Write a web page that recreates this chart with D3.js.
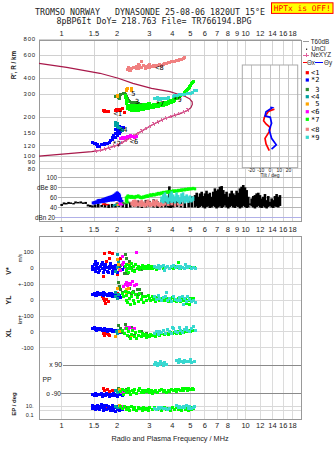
<!DOCTYPE html>
<html><head><meta charset="utf-8">
<script src="https://cdn.jsdelivr.net/npm/d3@7"></script>
<style>
body{margin:0;background:#fff}
svg{display:block}
text{font-family:"Liberation Sans",Arial,sans-serif;fill:#222}
.mono{font-family:"DejaVu Sans Mono",monospace}
</style></head>
<body><svg id="c" width="335" height="451"></svg>
<script>
// ---------------- DATA ----------------
const gridF   = [1,1.5,2,3,4,5,6,7,8,9,10,12,14,16,18];
const topTicks= [1,1.5,2,3,4,5,6,7,8,9,10,12,14,16,18];
const midTicks= [1,1.5,2,3,4,5,6,7,8,9,10,12,14,16,18];
const botTicks= [1,1.5,2,3,4,5,6,7,8,10,12,14,16,18];
const hTicks  = [800,600,400,300,200,150,120,100,90,80];
const dbTicks = [100,80,60,40];
const dbLabels= ["100","dBe 80","60","40"];
const tiltTicks=[-20,-10,0,10,20];
const bandLines=[["V",100],["V",0],["V",-100],["Y",0],["Y",-100],["X",0],["X",-100]];
const bandLabels=[["V",100,"100"],["V",0,"0"],["V",-100,"+-100"],["Y",0,"0"],["Y",-100,"+-100"],["X",0,"0"],["X",-100,"-100"]];

const traceNames = ["<1","*2"," 3","<4"," 5","<6","*7","<8","*9"];
const traceColors= ["#ff0000","#0000ff","#2e8b2e","#00a0a0","#ffa500","#ff00ff","#00ff00","#f08080","#38d8d0"];
const legendY    = [72.7,80,89.5,96.7,104,111.7,119.3,129.3,137.3];
const labF = [2.02,1.99,2.57,2.16,2.45,2.47,3.42,3.40,4.26];
const labH = [211,125,261,160,301,129,254,482,275];

// model profile (maroon) and NeXYZ
const modelCurve = [[0.753,519],[1.065,484],[1.615,435],[2.03,398],[2.44,364],[3.08,333],[3.88,314],[4.30,300],[4.70,288],[4.95,277],[5.12,262],[5.13,250],[5.04,236],[4.80,224],[4.40,212],[3.64,195],[3.08,173],[2.50,145],[2.03,122],[1.65,111],[1.456,108],[0.753,100]];
const neXYZ = [[1.50,109],[1.65,111],[1.80,115],[2.03,122],[2.25,132],[2.50,145],[2.80,160],[3.08,173],[3.35,185],[3.64,195],[4.00,205],[4.30,212],[4.68,221],[4.90,229]];

// tilt (deg) vs height (km)
const tiltX = [[4.8,230],[1.7,226],[-1.8,221],[-6.1,199],[-6.9,187],[-4.3,177],[0.3,166],[-0.8,154],[-5.4,137],[-4.3,124],[-0.8,110]];
const tiltY = [[0.3,238],[2.5,236],[-4.3,220],[-5.4,204],[0.3,199],[1.7,179],[-0.8,159],[1.7,137],[6.8,122],[1.7,113]];

// noise amplitude (black): frequency, lower and upper dB
const noiseF = [1.00,1.03,1.06,1.09,1.12,1.16,1.19,1.23,1.27,1.31,1.35,1.39,1.43,1.47,1.52,1.58,1.65,1.72,1.80,1.88,1.96,2.05,2.15,2.25,2.36,2.48,2.60,2.73,2.87,3.01,3.16,3.32,3.49,3.66,3.80,3.85,3.92,4.04,4.24,4.45,4.67,4.90,5.10,
 5.31,5.42,5.53,5.65,5.77,5.89,6.01,6.13,6.26,6.39,6.53,6.67,6.81,6.95,7.10,7.25,7.41,7.56,7.72,7.88,8.05,8.22,8.40,8.57,8.75,8.93,9.12,9.31,9.51,9.71,9.92,10.13,10.34,10.56,10.78,11.01,11.24,11.48,11.72,11.97,12.22,12.48,12.74,13.01,13.28,13.56,13.85,14.14,14.43,14.74,15.05,15.37];
const noiseHi = [47,50,49,51,50,49,52,51,52,50,51,46,45,44,46,47,45,48,46,47,45,46,47,48,50,52,54,51,55,53,56,52,55,57,60,82,58,56,62,56,60,58,62,
 64.6,69.3,61.3,68,71.3,62.7,68,73.3,66.7,69.3,61.3,71.3,78,73.3,76,81.3,82.6,74.6,66.7,71.3,61.3,68,73.3,68,64.6,73.3,69.3,78,81.3,84.6,80,74.6,61.3,48,58,62.7,64.6,68,69.3,64.6,58,61.3,66.7,54.6,62.7,51.3,58,54.6,62.7,66.7,61.3,64.6];
const noiseLo = [43,46,46,47,47,46,48,48,48,47,47,42,41,40,40,40,41,40,39,40,40,41,40,39,40,41,40,39,40,41,40,39,40,40,40,40,39,40,41,40,39,40,40,
 40,42,39,41,43,40,38,41,42,39,40,43,41,38,40,42,39,41,44,40,38,41,43,40,39,42,41,38,40,43,41,39,40,45,42,40,38,41,43,40,39,42,40,38,41,43,40,39,42,41,40,43];

// trace 1 (red <1)
const rng1=[[1.68,226],[1.70,224],[1.72,222],[1.74,221],[1.77,220],[1.80,222],[1.95,225],[1.98,227],[2.01,226],[2.04,228],[2.07,229],[2.10,226],[2.14,232],[2.20,216]];
const amp1=[[1.68,45,48],[1.71,46,48],[1.74,44,47],[1.78,45,47],[2.00,46,50],[2.03,47,49]];
const vs1=[[1.70,95],[1.83,98],[1.83,62],[1.69,26],[1.68,-54],[2.02,-43],[1.90,90],[1.75,40],[1.95,-20],[2.10,60]];
const yl1=[[1.68,11],[1.70,-6],[1.73,-21],[2.02,38],[1.66,25],[1.75,5],[1.80,-12]];
const xl1=[[1.68,-10],[1.72,-22],[1.79,-15],[1.83,-26],[1.75,-8]];
const pp1=[[1.68,-62],[1.72,-75],[1.77,-68],[1.83,-80],[1.90,-70]];
const ep1=[[1.70,20],[1.80,12],[1.75,8]];
// trace 2 (blue *2)
const rng2=[[1.48,128],[1.50,126],[1.52,124],[1.54,122],[1.56,122],[1.57,119],[1.59,119],[1.61,119],[1.64,122],[1.66,122],[1.68,122],[1.70,122],[1.72,124],[1.74,124],[1.76,126],[1.78,126],[1.81,128],[1.83,128],[1.85,131],[1.88,133],[1.88,138],[1.90,138],[1.92,143],[1.95,148],[1.95,140],[1.97,150],[2.00,153],[2.00,145],[2.02,156],[2.02,148],[2.05,159],[2.05,150],[2.07,159],[2.07,167],[2.10,164],[2.10,156],[2.13,167],[2.15,164],[2.18,167],[1.97,159],[2.00,164],[2.05,170]];
const amp2=[[1.48,46,52],[1.51,46,53],[1.54,47,54],[1.57,47,56],[1.59,48,57],[1.62,48,57],[1.66,49,58],[1.69,49,59],[1.72,50,60],[1.75,50,61],[1.78,51,62],[1.81,51,63],[1.85,52,64],[1.88,52,65],[1.92,52,67],[1.95,53,68],[1.97,53,70],[2.00,54,72],[2.02,53,71],[2.05,52,69],[2.07,50,66],[2.10,48,60],[2.13,46,55]];
const vs2=[[1.48,10],[1.48,-10],[1.50,25],[1.50,0],[1.52,-20],[1.54,15],[1.56,-5],[1.57,30],[1.59,5],[1.61,-15],[1.64,20],[1.66,0],[1.68,-25],[1.70,10],[1.72,-8],[1.74,25],[1.76,2],[1.78,-18],[1.81,12],[1.83,-5],[1.85,30],[1.88,-20],[1.90,8],[1.92,-10],[1.95,18],[1.97,0],[2.00,-25],[2.02,10],[2.05,-5],[2.10,15],[2.15,-10],[2.20,5],[1.52,40],[1.66,35],[1.80,-30],[1.58,-30],[1.72,18],[1.90,-35],[1.62,8],[1.86,4]];
const yl2=[[1.48,35],[1.50,40],[1.52,30],[1.55,38],[1.57,45],[1.60,32],[1.63,40],[1.66,36],[1.69,28],[1.72,42],[1.75,35],[1.78,30],[1.81,40],[1.84,33],[1.87,38],[1.90,25],[1.93,35],[1.96,30],[2.00,22],[2.03,35],[2.07,28],[2.10,15],[1.54,28],[1.68,44],[1.82,26]];
const xl2=[[1.48,20],[1.50,25],[1.52,15],[1.55,22],[1.57,18],[1.60,12],[1.63,20],[1.66,10],[1.69,15],[1.72,8],[1.75,14],[1.78,5],[1.81,12],[1.84,8],[1.87,15],[1.90,5],[1.93,10],[1.96,2],[2.00,8],[2.03,0],[2.07,5],[2.10,-3],[1.54,10],[1.70,22]];
const pp2=[[1.48,-95],[1.50,-102],[1.52,-90],[1.55,-105],[1.58,-96],[1.61,-100],[1.64,-92],[1.67,-108],[1.70,-98],[1.73,-104],[1.76,-94],[1.79,-100],[1.82,-110],[1.85,-96],[1.88,-102],[1.91,-92],[1.94,-105],[1.97,-98],[2.00,-108],[2.04,-100],[2.08,-95],[2.13,-105],[2.17,-100]];
const ep2=[[1.48,20],[1.48,3],[1.52,15],[1.52,1.5],[1.56,25],[1.56,4],[1.60,12],[1.60,2],[1.64,30],[1.64,5],[1.68,18],[1.68,1],[1.72,10],[1.72,3],[1.76,22],[1.76,1.5],[1.80,14],[1.80,4],[1.84,8],[1.84,0.8],[1.88,20],[1.88,2.5],[1.92,12],[1.92,1],[1.96,6],[1.96,0.6],[2.00,15],[2.00,2],[2.05,8],[2.05,1],[2.10,4],[2.15,2]];
// trace 3 (dark green 3)
const rng3=[[1.95,287],[2.03,282],[2.07,280],[2.06,289],[2.10,296],[2.16,302],[2.19,306],[2.22,300],[2.26,290],[2.28,278],[2.30,270],[2.35,264],[2.40,261],[2.45,259],[2.50,256],[2.56,257],[2.61,255],[2.66,252],[2.72,250],[2.78,248],[2.24,283]];
const amp3=[[2.00,46,49],[2.15,47,51],[2.21,46,50],[2.30,48,52]];
const vs3=[[2.21,83],[2.26,62],[2.10,14],[2.26,-16],[2.29,-32],[2.19,-32],[2.40,5],[2.50,-12],[2.35,40],[2.60,8],[2.70,-6]];
const yl3=[[2.03,109],[2.07,84],[2.10,63],[2.21,100],[2.35,74],[2.40,42],[2.57,63],[2.66,67],[2.72,42],[2.15,50],[2.45,55],[2.60,35]];
const xl3=[[2.03,43],[2.10,18],[2.21,45],[2.35,-30],[2.50,-20],[2.70,0],[2.90,-10],[2.15,-5],[2.40,30]];
const pp3=[[2.03,-60],[2.15,-75],[2.25,-68],[2.35,-85]];
const ep3=[[2.10,8],[2.25,5]];
// trace 4 (teal <4)
const rng4=[[1.95,183],[1.95,176],[1.97,172],[2.00,178],[2.00,170],[2.03,166],[2.08,163],[2.12,160],[2.15,158]];
const amp4=[[1.92,42,45],[1.95,43,47],[2.00,44,48],[2.03,42,46]];
const vs4=[[2.00,83],[2.00,5],[1.95,-22],[2.03,41],[2.05,-10]];
const yl4=[[1.95,45],[1.97,25],[2.00,12],[2.03,35]];
const xl4=[[1.98,5],[2.00,-10],[2.03,10]];
const pp4=[[1.95,-70],[2.00,-88],[2.03,-78]];
const ep4=[[1.97,15],[2.00,5]];
// trace 5 (orange 5)
const rng5=[[2.00,287],[2.01,292],[2.24,320],[2.25,326],[2.27,330],[2.39,330],[2.40,322]];
const amp5=[[2.02,43,47],[2.05,44,46]];
const vs5=[[2.00,52],[2.03,26],[2.07,-7],[2.30,20]];
const yl5=[[2.00,74],[2.24,63],[2.26,42],[2.30,70]];
const xl5=[[1.95,-30],[2.40,-20],[2.05,0]];
const pp5=[[2.05,-65],[2.10,-80]];
const ep5=[[2.05,20]];
// trace 6 (magenta <6)
const rng6=[[2.10,136],[2.13,139],[2.17,137],[2.21,140],[2.25,139],[2.29,142],[2.33,141],[2.38,143],[2.43,141],[2.50,140],[2.55,141]];
const amp6=[[2.07,44,49],[2.10,45,50],[2.13,44,47]];
const vs6=[[2.55,98],[2.13,73],[2.15,20],[2.21,5],[2.10,-12],[2.18,35]];
const yl6=[[2.21,100],[2.24,112],[2.28,90],[2.33,105],[2.38,95],[2.44,115],[2.50,88],[2.55,100],[2.18,85]];
const xl6=[[2.21,20],[2.26,28],[2.30,10],[2.35,25],[2.42,15],[2.50,22]];
const pp6=[[2.12,-85],[2.18,-92],[2.22,-80]];
const ep6=[[2.15,10],[2.20,6]];
// trace 7 (green *7)
const rng7=[[2.21,285],[2.22,292],[2.24,270],[2.25,278],[2.26,256],[2.28,262],[2.29,243],[2.32,235],[2.35,236],[2.40,235],[2.44,234],[2.50,234],[2.57,235],[2.61,235],[2.66,236],[2.72,237],[2.77,239],[2.83,240],[2.89,242],[2.95,243],[3.02,244],[3.08,246],[3.15,248],[3.21,249],[3.28,251],[3.35,252],[3.42,254],[3.49,255],[3.57,256],[3.64,258],[3.72,260],[3.80,263],[3.88,266],[3.96,269],[4.04,272],[4.12,275],[4.21,279],[4.30,283],[4.39,287],[4.45,291],[4.52,296],[4.58,301],[4.63,306],[4.68,310],[4.73,315],[4.78,321],[4.83,328],[4.88,333],[4.93,339],[4.98,346],[5.04,353],[5.09,361],[5.13,370],[5.19,378],
 [2.29,233],[2.35,227],[2.40,226],[2.44,225],[2.50,225],[2.57,226],[2.61,226],[2.66,227],[2.72,228],[2.77,230],[2.83,231],[2.89,233],[2.95,234],[3.02,235],[3.08,237],[3.15,239],[3.21,240],[3.28,242],[3.35,243],[3.42,245],[3.49,246],[3.57,247],[3.64,249],[3.72,251],[3.80,254],[3.88,257],[3.96,260],[4.04,263],[4.12,266],
 [2.35,246],[2.40,245],[2.44,244],[2.50,244],[2.57,245],[2.61,245],[2.66,246],[2.72,247],[2.77,249],[2.83,250],[2.89,252],[2.95,253],[3.02,254]];
const amp7=[[2.24,50,62],[2.27,48,64],[2.29,58,66],[2.33,58,65],[2.37,57,64],[2.40,58,65],[2.45,57,64],[2.50,57,64],[2.55,58,65],[2.61,59,66],[2.66,57,64],[2.72,56,63],[2.78,57,64],[2.84,58,65],[2.90,59,66],[2.95,59,66],[3.02,61,68],[3.08,61,68],[3.15,62,69],[3.21,62,68],[3.28,63,70],[3.35,64,71],[3.42,64,71],[3.49,65,72],[3.57,66,73],[3.64,66,73],[3.72,67,74],[3.80,67,74],[3.88,68,75],[3.96,68,75],[4.04,69,76],[4.13,69,76],[4.21,70,76],[4.30,70,77],[4.39,71,77],[4.48,71,78],[4.57,72,78],[4.68,72,79],[4.78,73,79],[4.88,73,80],[4.98,74,80],[5.08,74,80],[5.18,75,81],[5.30,74,80]];
const vs7=[[2.21,10],[2.24,-15],[2.26,25],[2.29,0],[2.32,-25],[2.35,15],[2.38,-5],[2.40,30],[2.44,-12],[2.47,8],[2.50,-20],[2.53,20],[2.57,0],[2.61,12],[2.65,-10],[2.70,5],[2.75,18],[2.80,-5],[2.85,10],[2.90,0],[2.95,15],[3.00,-5],[3.05,8],[3.10,0],[3.16,12],[3.22,2],[3.28,-8],[3.35,10],[3.42,0],[3.50,8],[3.58,-4],[3.66,5],[3.75,10],[3.85,0],[3.95,6],[4.05,-3],[4.15,8],[4.25,2],[4.35,10],[4.45,-2],[4.55,6],[4.65,0],[4.75,8],[4.85,2],[4.95,5],[5.05,0],[5.15,6],[5.25,3],[4.30,35]];
const yl7=[[2.15,40],[2.18,20],[2.21,55],[2.24,0],[2.26,30],[2.29,-15],[2.32,45],[2.35,10],[2.38,-25],[2.41,25],[2.44,50],[2.47,0],[2.50,-20],[2.53,35],[2.57,15],[2.61,-10],[2.65,40],[2.70,5],[2.75,25],[2.80,-15],[2.85,20],[2.90,0],[2.95,30],[3.00,10],[3.05,-5],[3.10,20],[3.16,5],[3.22,-10],[3.30,15],[3.40,0],[3.50,10],[3.60,-5],[3.70,12],[3.80,-10],[3.90,5],[4.00,15],[4.10,0],[4.20,-8],[4.30,10],[4.40,-12],[4.50,5],[4.60,-5],[4.70,10],[4.80,-15],[4.90,0],[5.00,8],[5.10,-8],[5.20,12],[4.95,-25],[4.80,-20]];
const xl7=[[2.15,10],[2.20,-10],[2.24,20],[2.28,-25],[2.32,5],[2.36,-40],[2.40,-15],[2.44,10],[2.48,-30],[2.52,-5],[2.56,-45],[2.60,-20],[2.65,0],[2.70,-30],[2.75,-10],[2.80,-25],[2.85,-15],[2.90,-35],[2.95,-20],[3.00,-28],[3.05,-15],[3.10,-25],[3.16,-20],[3.22,-30],[3.30,-15],[3.40,-22],[3.50,-12],[3.60,-18],[3.70,-8],[3.80,-15],[3.90,-5],[4.00,-12],[4.10,-2],[4.20,-10],[4.30,0],[4.40,-8],[4.50,5],[4.60,-3],[4.70,8],[4.80,0],[4.90,10],[5.00,5],[5.10,12],[5.20,8]];
const pp7=[[2.10,-80],[2.14,-65],[2.18,-95],[2.22,-72],[2.26,-88],[2.30,-60],[2.34,-78],[2.38,-98],[2.42,-70],[2.46,-85],[2.50,-65],[2.55,-90],[2.60,-75],[2.65,-62],[2.70,-82],[2.75,-70],[2.80,-88],[2.85,-74],[2.90,-80],[2.95,-68],[3.00,-85],[3.06,-72],[3.12,-90],[3.18,-78],[3.25,-70],[3.32,-84],[3.40,-75],[3.48,-66],[3.56,-80],[3.64,-72],[3.72,-86],[3.80,-70],[3.88,-78],[3.96,-64],[4.05,-75],[4.14,-68],[4.23,-80],[4.32,-66],[4.42,-74],[4.52,-62],[4.62,-72],[4.72,-60],[4.82,-70],[4.92,-58],[5.02,-68],[5.12,-62],[5.22,-66]];
const ep7=[[2.10,10],[2.15,3],[2.20,15],[2.25,1.5],[2.30,6],[2.35,0.8],[2.40,12],[2.45,2],[2.50,5],[2.55,1],[2.60,8],[2.65,2.5],[2.70,4],[2.75,1.2],[2.80,6],[2.85,2],[2.90,3],[2.95,0.9],[3.00,5],[3.10,1.5],[3.20,7],[3.30,2],[3.40,4],[3.50,1],[3.60,6],[3.70,1.8],[3.80,3],[3.90,0.8],[4.00,5],[4.10,1.5],[4.20,8],[4.30,2],[4.40,4],[4.50,1],[4.60,6],[4.70,2],[4.80,3],[4.90,1.2],[5.00,5],[5.10,1.5],[5.20,3]];
// trace 8 (salmon <8)
const rng8=[[2.29,469],[2.32,478],[2.35,461],[2.38,455],[2.40,474],[2.46,486],[2.50,480],[2.55,470],[2.56,492],[2.61,474],[2.62,505],[2.66,497],[2.70,534],[2.72,486],[2.77,504],[2.84,492],[2.85,470],[2.89,478],[2.95,497],[3.00,505],[3.02,486],[3.08,492],[3.15,504],[3.21,489],[3.28,497],[3.35,504],[3.42,510],[3.49,497],[3.57,513],[3.64,516],[3.72,519],[3.80,525],[3.88,528],[3.96,534],[4.04,537],[4.13,540],[4.21,547],[4.30,550],[4.39,554],[4.48,560],[4.57,567],[4.68,574]];
const amp8=[[2.40,44,52],[2.45,42,55],[2.50,41,56],[2.55,43,54],[2.61,42,50],[2.66,44,53],[2.72,41,55],[2.78,43,52],[2.84,40,49],[2.90,42,54],[2.95,44,56],[3.02,41,52],[3.08,42,50],[3.15,43,55],[3.21,41,53],[3.28,44,56],[3.35,42,51],[3.42,41,49],[3.49,43,54],[3.57,42,52],[3.64,44,50],[3.80,43,48],[3.96,44,52],[4.13,42,50],[4.30,44,49],[4.48,43,47]];
const vs8=[], yl8=[], xl8=[], pp8=[], ep8=[];
// trace 9 (cyan *9)
const rng9=[[3.21,280],[3.25,276],[3.30,282],[3.35,274],[3.40,278],[3.46,272],[3.52,277],[3.60,280],[3.68,276],[3.75,279],[3.80,283],[4.04,288],[4.12,291],[4.25,294],[4.39,297],[4.52,299],[4.68,301],[4.85,302],[5.00,305],[5.13,310],[5.25,318],[5.40,320]];
const amp9=[[3.49,50,62],[3.57,48,66],[3.64,52,70],[3.72,50,64],[3.80,47,60],[3.88,52,68],[3.96,49,72],[4.04,51,66],[4.13,48,62],[4.21,52,70],[4.30,50,65],[4.39,47,60],[4.48,50,68],[4.57,52,70],[4.68,48,63],[4.78,51,66],[4.88,49,62],[4.98,52,64],[5.08,50,60],[5.18,53,62]];
const vs9=[[3.21,12],[3.28,5],[3.35,15],[3.42,0],[3.50,10],[3.58,18],[3.66,5],[3.75,12],[3.85,-2],[3.95,8],[4.05,15],[4.15,2],[4.25,10],[4.35,0],[4.45,12],[4.55,5],[4.65,-4],[4.75,8],[4.85,2],[4.95,10],[5.05,0],[5.20,5],[5.35,0],[3.60,-15],[4.70,20]];
const yl9=[[3.21,20],[3.28,5],[3.35,30],[3.42,10],[3.50,-5],[3.58,15],[3.66,25],[3.75,0],[3.85,10],[3.95,-10],[4.05,20],[4.15,5],[4.25,-5],[4.35,15],[4.45,0],[4.55,25],[4.65,10],[4.75,-8],[4.85,20],[4.95,5],[5.05,-12],[5.20,0],[5.35,-18],[3.70,45],[4.60,-25]];
const xl9=[[3.21,-10],[3.28,0],[3.35,-15],[3.42,5],[3.50,-5],[3.58,10],[3.66,-8],[3.75,15],[3.85,0],[3.95,-10],[4.05,20],[4.15,5],[4.25,-5],[4.35,25],[4.45,8],[4.55,-2],[4.65,15],[4.75,30],[4.85,10],[4.95,0],[5.05,20],[5.20,35],[5.35,10],[4.00,30]];
const pp9=[[3.21,95],[3.25,105],[3.30,85],[3.35,100],[3.40,92],[3.46,110],[3.52,98],[3.58,88],[3.64,104],[3.72,95],[4.21,118],[4.30,108],[4.39,122],[4.48,112],[4.57,105],[4.68,120],[4.80,110],[4.90,115],[5.00,125],[5.10,108],[5.30,115]];
const ep9=[[3.21,4],[3.28,2],[3.35,6],[3.42,3],[3.50,5],[3.58,2.5],[3.66,4],[3.75,1.8],[3.85,3],[4.21,20],[4.30,8],[4.39,15],[4.48,5],[4.57,12],[4.68,6],[4.78,18],[4.88,4],[4.98,10],[5.08,3],[5.20,8],[5.30,14]];

// ---------------- CHART ----------------
const svg = d3.select("#c");
const x   = d3.scaleLog().domain([0.753,20]).range([39,301]);
const yH  = d3.scaleLog().domain([80,800]).range([168.6,39]);
const yDB = d3.scaleLinear().domain([20,100]).range([217.5,177.3]);
const yV  = d3.scaleLinear().domain([-100,100]).range([284,252.3]);
const yYL = d3.scaleLinear().domain([-100,100]).range([316,284]);
const yXL = d3.scaleLinear().domain([-100,100]).range([347.7,316]);
const yPP = d3.scaleLinear().domain([-90,90]).range([393.3,365]);
const yEP = d3.scaleLog().domain([0.1,10]).range([414.3,406.7]);
const xT  = d3.scaleLinear().domain([-30,30]).range([242.3,297.7]);
const bandScale={V:yV,Y:yYL,X:yXL};

const traces = traceNames.map((n,i)=>({name:n,color:traceColors[i],
  rng:[rng1,rng2,rng3,rng4,rng5,rng6,rng7,rng8,rng9][i],
  amp:[amp1,amp2,amp3,amp4,amp5,amp6,amp7,amp8,amp9][i],
  vs:[vs1,vs2,vs3,vs4,vs5,vs6,vs7,vs8,vs9][i],
  yl:[yl1,yl2,yl3,yl4,yl5,yl6,yl7,yl8,yl9][i],
  xl:[xl1,xl2,xl3,xl4,xl5,xl6,xl7,xl8,xl9][i],
  pp:[pp1,pp2,pp3,pp4,pp5,pp6,pp7,pp8,pp9][i],
  ep:[ep1,ep2,ep3,ep4,ep5,ep6,ep7,ep8,ep9][i]}));

function ln(g,x1,y1,x2,y2,c,w){g.append("line").attr("x1",x1).attr("y1",y1).attr("x2",x2).attr("y2",y2).attr("stroke",c).attr("stroke-width",w||1).attr("shape-rendering","crispEdges");}
function txt(g,xx,yy,s,o){o=o||{};const t=g.append("text").attr("x",xx).attr("y",yy).attr("dy","0.35em").attr("font-size",o.size||7.5).attr("text-anchor",o.anchor||"middle").text(s);
  if(o.cls)t.attr("class",o.cls); if(o.fill)t.style("fill",o.fill); if(o.weight)t.attr("font-weight",o.weight); if(o.ls)t.attr("letter-spacing",o.ls);
  if(o.rot)t.attr("transform",`rotate(-90,${xx},${yy})`); return t;}
function pts(g,data,ys,color,s){g.selectAll(null).data(data).join("rect").attr("x",d=>x(d[0])-s/2).attr("y",d=>ys(d[1])-s/2).attr("width",s).attr("height",s).attr("fill",color).attr("shape-rendering","crispEdges");}

const g = svg.append("g");
// title
txt(g,150,12,"TROMSO NORWAY   DYNASONDE 25-08-06 1820UT 15°E",{cls:"mono",size:8.3}).style("white-space","pre");
txt(g,154,20.7,"8pBP6It DoY= 218.763 File= TR766194.BPG",{cls:"mono",size:8.3});
g.append("rect").attr("x",271.5).attr("y",2.8).attr("width",61.5).attr("height",10.6).attr("fill","#ffff00").attr("stroke","#ff0000").attr("stroke-width",1);
txt(g,302.2,8.2,"HPTx is OFF!",{cls:"mono",size:7.9,fill:"#ff0000"});

// grids
const gUp=g.append("g"), gLo=g.append("g");
gridF.forEach(f=>{ln(gUp,x(f),40,x(f),221.7,"#d4d4d4");ln(gLo,x(f),236.7,x(f),419,"#dcdcdc");});
gUp.append("rect").attr("x",xT(-30)).attr("y",65).attr("width",xT(30)-xT(-30)).attr("height",102.7).attr("fill","#fff");
hTicks.forEach(h=>ln(gUp,39,yH(h),301,yH(h),"#d0d0d0"));
tiltTicks.forEach(t=>ln(gUp,xT(t),65,xT(t),167.7,"#c4c4c4"));
gUp.append("rect").attr("x",xT(-30)).attr("y",65).attr("width",xT(30)-xT(-30)).attr("height",102.7).attr("fill","none").attr("stroke","#aaa");
dbTicks.forEach(v=>ln(gUp,58,yDB(v),301,yDB(v),"#b4b4b4"));
ln(gUp,55,yDB(20),301,yDB(20),"#b0b0e8",1.2);
bandLines.forEach(([b,v])=>ln(gLo,39,bandScale[b](v),301,bandScale[b](v),"#dadada"));
ln(gLo,63,yPP(90),301,yPP(90),"#8a8a8a");
ln(gLo,60.5,yPP(-90),301,yPP(-90),"#8a8a8a");
[10,1].forEach(v=>ln(gLo,39,yEP(v),301,yEP(v),"#d8d8d8"));
// frames
g.append("rect").attr("x",39).attr("y",40).attr("width",262).attr("height",181.7).attr("fill","none").attr("stroke","#999").attr("shape-rendering","crispEdges");
g.append("rect").attr("x",39).attr("y",236.7).attr("width",262).attr("height",182.3).attr("fill","none").attr("stroke","#999").attr("shape-rendering","crispEdges");

// axis labels
topTicks.forEach(f=>txt(g,x(f),33.2,String(f)));
midTicks.forEach(f=>txt(g,x(f),229.8,String(f)));
botTicks.forEach(f=>txt(g,x(f),425.8,String(f)));
hTicks.forEach(h=>txt(g,36,yH(h),String(h),{anchor:"end",size:6,ls:0.8}));
dbTicks.forEach((v,i)=>txt(g,57,yDB(v),dbLabels[i],{anchor:"end",size:6.3}));
txt(g,55,yDB(20),"dBn 20",{anchor:"end",size:6.3});
bandLabels.forEach(([b,v,s])=>txt(g,33.5,bandScale[b](v),s,{anchor:"end",size:6}));
txt(g,62,yPP(90),"x 90",{anchor:"end",size:6.8});
txt(g,42.5,379.3,"PP",{anchor:"start",size:6.8});
txt(g,61,yPP(-90),"o -90",{anchor:"end",size:6.5});
txt(g,33.5,yEP(10)-0.4,"10.",{anchor:"end",size:5.5});
txt(g,33.5,yEP(0.1)+0.4,"0.1",{anchor:"end",size:5.5});
txt(g,13.5,65,"R', R / km",{rot:true,size:6.3,weight:"bold"});
txt(g,9,271,"V*",{rot:true,size:7,weight:"bold"});
txt(g,20,258,"m/s",{rot:true,size:5});
txt(g,9,300,"YL",{rot:true,size:7,weight:"bold"});
txt(g,20,321,"km",{rot:true,size:5});
txt(g,9,333,"XL",{rot:true,size:7,weight:"bold"});
txt(g,14,404,"EP / deg",{rot:true,size:6,weight:"bold"});
txt(g,170,438.5,"Radio and Plasma Frequency / MHz",{size:7.3});
tiltTicks.forEach(t=>txt(g,xT(t),170.2,String(t),{size:5}));
txt(g,xT(0),174.8,"Tilt / deg",{size:5});

// model curve & NeXYZ
const lineH=d3.line().x(d=>x(d[0])).y(d=>yH(d[1]));
g.append("path").attr("d",lineH(modelCurve)).attr("fill","none").attr("stroke","#a8184a").attr("stroke-width",1.2);
const neP=g.append("path").attr("d",lineH(neXYZ)).attr("fill","none").attr("stroke","#e0609c").attr("stroke-width",1);
{const p=neP.node(),L=p.getTotalLength();
 for(let s=2;s<L;s+=4.6){const a=p.getPointAtLength(s),b=p.getPointAtLength(Math.min(L,s+0.6));
  const dx=b.x-a.x,dy=b.y-a.y,n=Math.hypot(dx,dy)||1,nx=-dy/n,ny=dx/n;
  ln(g,a.x-nx*2,a.y-ny*2,a.x+nx*2,a.y+ny*2,"#e0609c",1);}}

// tilt traces
const lineT=d3.line().x(d=>xT(d[0])).y(d=>yH(d[1]));
g.append("path").attr("d",lineT(tiltX)).attr("fill","none").attr("stroke","#ff0000").attr("stroke-width",1.7);
g.append("path").attr("d",lineT(tiltY)).attr("fill","none").attr("stroke","#0000ff").attr("stroke-width",1.7);

// noise amplitude as vertical bars
const noise=noiseF.map((f,i)=>[f,noiseLo[i],noiseHi[i]]);
g.selectAll(null).data(noise).join("rect").attr("x",d=>x(d[0])-1.3).attr("width",2.6).attr("y",d=>yDB(d[2])).attr("height",d=>yDB(d[1])-yDB(d[2])).attr("fill","#000");

// traces
traces.forEach(t=>{
  pts(g,t.rng,yH,t.color,3);
  g.selectAll(null).data(t.amp).join("rect").attr("x",d=>x(d[0])-1.3).attr("y",d=>yDB(d[2])).attr("width",2.6).attr("height",d=>yDB(d[1])-yDB(d[2])).attr("fill",t.color);
  pts(g,t.vs,yV,t.color,3);
  pts(g,t.yl,yYL,t.color,3);
  pts(g,t.xl,yXL,t.color,3);
  pts(g,t.pp,yPP,t.color,3);
  pts(g,t.ep,yEP,t.color,3);
});
// trace labels
traces.forEach((t,i)=>txt(g,x(labF[i]),yH(labH[i]),t.name.trim(),{cls:"mono",size:7,fill:"#000"}));

// legend
const lg=g.append("g");
ln(lg,303.3,41.7,309.3,41.7,"#999",1.2); txt(lg,310.7,41.7,"T60dB",{anchor:"start",size:6.3});
lg.append("rect").attr("x",306).attr("y",48.6).attr("width",1.2).attr("height",1.2).attr("fill","#000"); txt(lg,311.5,48.5,"UnCl",{anchor:"start",size:6.3});
ln(lg,303.3,55,309.3,55,"#e0609c"); ln(lg,306.3,53.3,306.3,56.7,"#e0609c"); txt(lg,310.7,55.2,"NeXYZ",{anchor:"start",size:6.3});
ln(lg,303.3,62.7,306.7,62.7,"#ff0000"); txt(lg,306.9,62.7,"Θx",{anchor:"start",size:6.3});
ln(lg,315,62.7,323.3,62.7,"#0000ff"); txt(lg,324,62.7,"Θy",{anchor:"start",size:6.3});
traces.forEach((t,i)=>{
  lg.append("rect").attr("x",305.7).attr("y",legendY[i]-1.6).attr("width",3.2).attr("height",3.2).attr("fill",t.color);
  txt(lg,311,legendY[i],t.name,{anchor:"start",cls:"mono",size:7,fill:"#000"}).style("white-space","pre");
});
</script></body></html>
